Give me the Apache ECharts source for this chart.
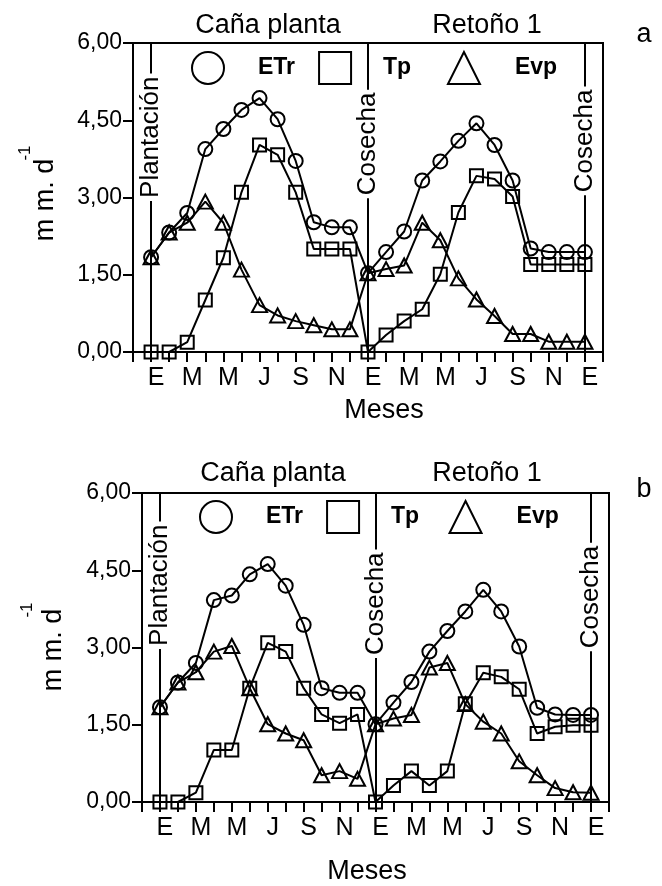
<!DOCTYPE html>
<html>
<head>
<meta charset="utf-8">
<script src="https://cdn.jsdelivr.net/npm/echarts@6/dist/echarts.min.js"></script>
<style>
html,body{margin:0;padding:0;background:#fff;}
#c{width:662px;height:886px;}
</style>
</head>
<body>
<div id="c"></div>
<script>
// ---------- data ----------
const periods = [1,2,3,4,5,6,7,8,9,10,11,12,13,14,15,16,17,18,19,20,21,22,23,24,25];
const xLabels = ['E','M','M','J','S','N','E','M','M','J','S','N','E'];
const xLabelPos = [1,3,5,7,9,11,13,15,17,19,21,23,25];
const yTicks = [0, 1.5, 3, 4.5, 6];
const seriesNames = ['ETr','Tp','Evp'];
const eventNames = ['Plantación','Cosecha','Cosecha'];
const eventPos = [1, 13, 25];
const periodTitles = ['Caña planta','Retoño 1'];
const panelLetters = ['a','b'];

// panel a
const etrA = [1.84,2.32,2.70,3.94,4.33,4.70,4.93,4.52,3.71,2.52,2.42,2.42,1.53,1.94,2.34,3.33,3.70,4.10,4.44,4.02,3.33,2.01,1.94,1.94,1.94];
const tpA  = [0,0,0.19,1.01,1.83,3.10,4.02,3.83,3.10,2.00,2.00,2.00,0,0.33,0.60,0.83,1.51,2.71,3.42,3.36,3.02,1.70,1.70,1.70,1.70];
const evpA = [1.84,2.32,2.51,2.92,2.51,1.60,0.91,0.71,0.60,0.52,0.44,0.44,1.53,1.61,1.68,2.51,2.17,1.43,1.02,0.70,0.35,0.35,0.20,0.20,0.20];
const eventLabelYA = [4.17, 4.04, 4.10];

// panel b
const etrB = [1.84,2.32,2.70,3.92,4.01,4.42,4.62,4.20,3.44,2.21,2.12,2.12,1.51,1.93,2.33,2.92,3.32,3.70,4.12,3.70,3.02,1.83,1.70,1.69,1.69];
const tpB  = [0,0,0.18,1.01,1.01,2.21,3.09,2.92,2.21,1.70,1.53,1.70,0,0.32,0.60,0.32,0.60,1.91,2.51,2.43,2.19,1.33,1.46,1.49,1.49];
const evpB = [1.84,2.32,2.52,2.92,3.03,2.21,1.51,1.33,1.20,0.52,0.60,0.45,1.51,1.62,1.69,2.61,2.70,1.90,1.56,1.33,0.79,0.52,0.27,0.19,0.18];
const eventLabelYB = [4.21, 3.85, 3.98];

// ---------- chart ----------
const FONT = '"Liberation Sans", Arial, Helvetica, sans-serif';
const chart = echarts.init(document.getElementById('c'), null, {renderer:'canvas'});

function xAxisFor(g){
  return {
    type:'value', gridIndex:g, min:0, max:26, interval:1,
    axisLine:{show:true, onZero:false, lineStyle:{color:'#000', width:2}},
    axisTick:{show:true, inside:false, length:10, lineStyle:{color:'#000', width:2}},
    splitLine:{show:false},
    axisLabel:{
      show:true, color:'#000', fontSize:25, fontFamily:FONT, margin:14,
      padding:[0,0,0,10], showMinLabel:true, showMaxLabel:true,
      formatter:function(v){ const i = xLabelPos.indexOf(v); return i>=0 ? xLabels[i] : ''; }
    }
  };
}
function yAxisFor(g){
  return {
    type:'value', gridIndex:g, min:yTicks[0], max:yTicks[yTicks.length-1], interval:yTicks[1]-yTicks[0],
    axisLine:{show:true, onZero:false, lineStyle:{color:'#000', width:2}},
    axisTick:{show:true, inside:false, length:10, lineStyle:{color:'#000', width:2}},
    splitLine:{show:false},
    axisLabel:{color:'#000', fontSize:23, fontFamily:FONT, margin:11,
      formatter:function(v){ return v.toFixed(2).replace('.', ','); }}
  };
}
function panelSeries(g, etr, tp, evp, evY){
  const mk = vals => periods.map((p,i)=>[p, vals[i]]);
  const base = {
    type:'line', xAxisIndex:g, yAxisIndex:g, z:3, animation:false,
    lineStyle:{color:'#000', width:2},
    itemStyle:{color:'rgba(255,255,255,0)', borderColor:'#000', borderWidth:2},
    emphasis:{disabled:true}
  };
  return [
    Object.assign({}, base, {
      name:seriesNames[0], symbol:'circle', symbolSize:14, data:mk(etr),
      markLine:{
        silent:true, animation:false, symbol:['none','none'],
        label:{show:false}, emphasis:{disabled:true},
        lineStyle:{color:'#000', width:2, type:'solid', opacity:1},
        data:eventPos.map(x=>({xAxis:x}))
      }
    }),
    Object.assign({}, base, {name:seriesNames[1], symbol:'rect', symbolSize:13, data:mk(tp)}),
    Object.assign({}, base, {name:seriesNames[2], symbol:'triangle', symbolSize:[15,14], data:mk(evp)}),
    {
      type:'scatter', xAxisIndex:g, yAxisIndex:g, symbolSize:0, z:6, silent:true, animation:false,
      itemStyle:{opacity:1, color:'#000'},
      data:eventPos.map((x,i)=>({value:[x, evY[i]], name:eventNames[i]})),
      label:{show:true, position:'inside', rotate:90, formatter:'{b}', fontSize:26, fontFamily:FONT,
        color:'#000', opacity:1, textBorderWidth:0, backgroundColor:'#fff', padding:[0,3]}
    }
  ];
}
function legendFor(left, top, tpTrail){
  return {
    left:left, top:top, padding:0, orient:'horizontal', selectedMode:false,
    itemWidth:32, itemHeight:32, itemGap:23,
    textStyle:{fontSize:23, fontWeight:'bold', color:'#000', fontFamily:FONT},
    formatter:function(name){ return name === seriesNames[1] ? name + tpTrail : name; },
    data:[
      {name:seriesNames[0], icon:'circle', textStyle:{padding:[0,0,0,29]}},
      {name:seriesNames[1], icon:'rect', textStyle:{padding:[0,0,0,27]}},
      {name:seriesNames[2], icon:'triangle', textStyle:{padding:[0,0,0,30]}}
    ]
  };
}
function txt(x, y, text, size, opts){
  return Object.assign({
    type:'text', x:x, y:y, silent:true,
    style:{text:text, fontSize:size, fontFamily:FONT, fill:'#000', align:'center', verticalAlign:'middle'}
  }, opts || {});
}

const option = {
  backgroundColor:'#fff',
  animation:false,
  textStyle:{fontFamily:FONT, color:'#000'},
  grid:[
    {left:133, top:43, width:470, height:309, show:true, borderColor:'#000', borderWidth:2, backgroundColor:'transparent'},
    {left:142, top:493, width:467, height:309, show:true, borderColor:'#000', borderWidth:2, backgroundColor:'transparent'}
  ],
  xAxis:[xAxisFor(0), xAxisFor(1)],
  yAxis:[yAxisFor(0), yAxisFor(1)],
  legend:[legendFor(191, 51, '  '), legendFor(199, 500, ' ')],
  series:[].concat(
    panelSeries(0, etrA, tpA, evpA, eventLabelYA),
    panelSeries(1, etrB, tpB, evpB, eventLabelYB)
  ),
  graphic:[
    txt(268, 25.5, periodTitles[0], 27),
    txt(487, 25.5, periodTitles[1], 27),
    txt(273, 474, periodTitles[0], 27),
    txt(487, 474, periodTitles[1], 27),
    txt(644, 35, panelLetters[0], 27),
    txt(644, 490, panelLetters[1], 27),
    txt(384, 411, 'Meses', 27),
    txt(367, 872, 'Meses', 27),
    txt(46, 200, 'm m. d', 27, {rotation:Math.PI/2}),
    txt(25, 153, '-1', 17, {rotation:Math.PI/2}),
    txt(54, 650, 'm m. d', 27, {rotation:Math.PI/2}),
    txt(27, 610, '-1', 17, {rotation:Math.PI/2})
  ]
};
chart.setOption(option);
</script>
</body>
</html>
